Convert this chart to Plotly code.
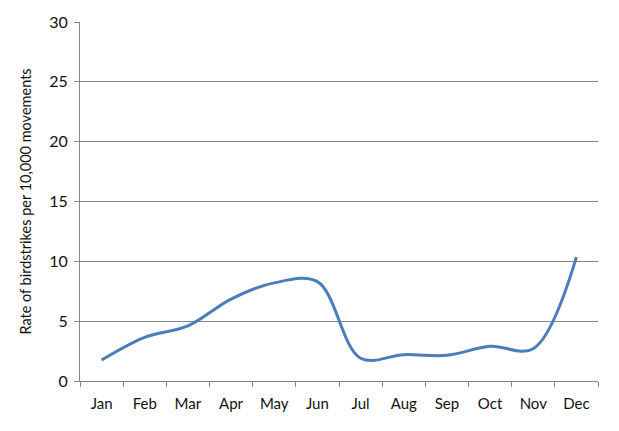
import plotly.graph_objects as go

months = ["Jan", "Feb", "Mar", "Apr", "May", "Jun", "Jul", "Aug", "Sep", "Oct", "Nov", "Dec"]
rates = [1.75, 3.65, 4.6, 6.85, 8.2, 8.3, 1.9, 2.2, 2.15, 2.9, 2.7, 10.35]

fig = go.Figure()
fig.add_trace(go.Scatter(
    x=months, y=rates, mode="lines",
    line=dict(color="#4A7EBB", width=3, shape="spline", smoothing=1.0),
    showlegend=False,
))

axis_color = "#868686"
fig.update_layout(
    width=619, height=431,
    margin=dict(l=80, r=21, t=20, b=50),
    paper_bgcolor="white", plot_bgcolor="white",
    font=dict(family="Lato, Open Sans, sans-serif", size=15, color="#111111"),
    xaxis=dict(
        type="category", range=[-0.5, 11.5],
        showline=True, linecolor=axis_color, linewidth=1,
        ticks="outside", tickson="boundaries", ticklen=5, tickcolor=axis_color,
        showgrid=False, tickfont=dict(size=15), ticklabelstandoff=9,
    ),
    yaxis=dict(
        range=[0, 30], dtick=5, tick0=0,
        showline=True, linecolor=axis_color, linewidth=1,
        ticks="outside", ticklen=5, tickcolor=axis_color,
        showgrid=True, gridcolor=axis_color, gridwidth=1,
        zeroline=False, tickfont=dict(size=16), ticklabelstandoff=3,
        title=dict(text="Rate of birdstrikes per 10,000 movements", font=dict(size=14.5), standoff=14),
    ),
)

fig.write_html("out.html")
